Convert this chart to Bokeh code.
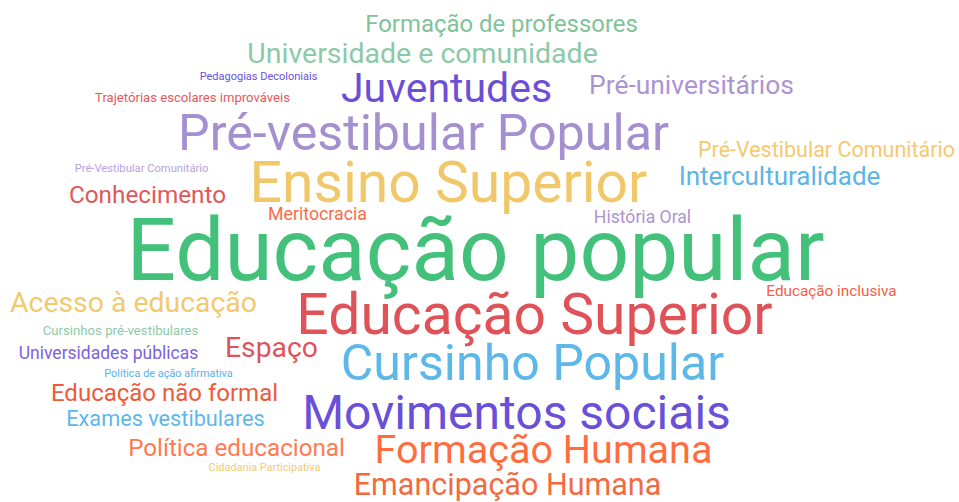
from bokeh.plotting import figure
from bokeh.models import ColumnDataSource, Range1d
from bokeh.core.properties import value
from bokeh.embed import file_html
from bokeh.resources import INLINE

# --- data: words and their weights (rendered font size, px) ---
words = [
    "Formação de professores", "Universidade e comunidade", "Pedagogias Decoloniais",
    "Trajetórias escolares improváveis", "Juventudes", "Pré-universitários",
    "Pré-vestibular Popular", "Pré-Vestibular Comunitário", "Pré-Vestibular Comunitário",
    "Ensino Superior", "Interculturalidade", "Conhecimento", "Meritocracia",
    "História Oral", "Educação popular", "Acesso à educação", "Educação inclusiva",
    "Educação Superior", "Cursinhos pré-vestibulares", "Universidades públicas",
    "Espaço", "Cursinho Popular", "Política de ação afirmativa", "Educação não formal",
    "Exames vestibulares", "Movimentos sociais", "Política educacional",
    "Formação Humana", "Cidadania Participativa", "Emancipação Humana",
]
weights = [
    23.9, 28.5, 11,
    13.1, 41, 26.4,
    50.2, 21.5, 11.2,
    57, 26, 24.3, 17.8,
    17.6, 87.3, 28.4, 15.3,
    57, 13.2, 17.5,
    28.3, 50.1, 10.9, 24,
    21.7, 48, 24.2,
    39.6, 10.9, 30.5,
]

# --- layout of the cloud (centre x, baseline y in page pixels) and colours ---
layout_x = [
    501, 422, 258,
    192, 446, 691,
    423, 826, 141,
    448, 779, 147, 317,
    642, 475, 133, 831,
    534, 120, 108,
    271, 532, 168, 164,
    165, 516, 236,
    543, 264, 507,
]
layout_base = [
    31, 62, 80,
    101, 101, 93,
    148, 156, 172,
    200, 184, 202, 219,
    222, 277, 311, 295,
    332, 334, 358,
    356, 379, 376, 400,
    425, 427, 455,
    462, 470, 494,
]
colors = [
    "#7fc397", "#8cc9a6", "#6a52d9",
    "#e5595b", "#6c4fd6", "#ad94d1",
    "#a48fd0", "#f4c96f", "#b8a2dd",
    "#f0c86a", "#5db5e6", "#e0585b", "#fa6b4a",
    "#ad94d1", "#43c17a", "#f2c96f", "#f0604a",
    "#df5358", "#8ec9a6", "#7b62e0",
    "#df5358", "#5db8ea", "#5cb0e6", "#ee5a3c",
    "#5db8ea", "#6a4fd8", "#ff7a52",
    "#ff6d3f", "#f4c96f", "#f26a3f",
]

# Bokeh's alphabetic anchor sits a little above the drawn baseline
ys = [b - 0.32 * s for b, s in zip(layout_base, weights)]

src = ColumnDataSource(dict(
    x=layout_x, y=ys, text=words,
    size=[f"{w}px" for w in weights], color=colors,
))

p = figure(width=959, height=502, output_backend="svg", toolbar_location=None,
           x_range=Range1d(0, 959), y_range=Range1d(502, 0),
           min_border=0, outline_line_color=None)
p.axis.visible = False
p.grid.visible = False
p.background_fill_color = "white"
p.border_fill_color = "white"

p.text(x="x", y="y", text="text", source=src, text_font=value("Roboto"),
       text_font_size="size", text_color="color",
       text_align="center", text_baseline="alphabetic")

open("out.html", "w").write(file_html(p, INLINE))
